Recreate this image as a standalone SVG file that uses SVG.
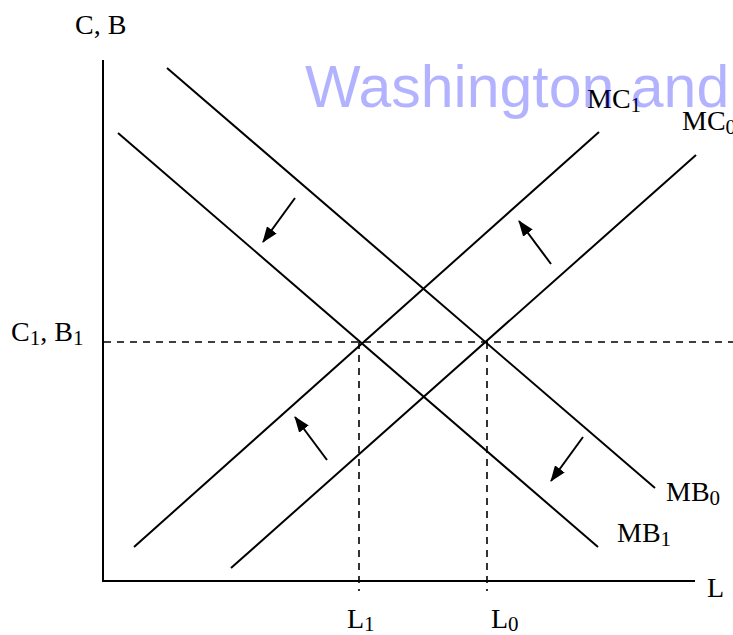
<svg xmlns="http://www.w3.org/2000/svg" width="733" height="635" viewBox="0 0 733 635">
<style>
.ax{stroke:#000;stroke-width:2;fill:none}
.ln{stroke:#000;stroke-width:2;fill:none}
.ds{stroke:#000;stroke-width:1.6;stroke-dasharray:7,6;fill:none}
.ar{stroke:#000;stroke-width:2;fill:none;marker-end:url(#ah)}
.t{font-family:"Liberation Serif","Times New Roman",serif;font-size:28px;fill:#000}
.s{font-size:21px}
.wm{font-family:"Liberation Sans",Arial,sans-serif;font-size:59px;fill:#0000ff;fill-opacity:0.3}
</style>
<defs>
<marker id="ah" viewBox="0 0 16 12" refX="15" refY="6" markerWidth="16" markerHeight="12" markerUnits="userSpaceOnUse" orient="auto">
<path d="M0,0 L16,6 L0,12 z" fill="#000"/>
</marker>
</defs>
<rect width="733" height="635" fill="#fff"/>
<g id="axes">
<line class="ax" x1="103" y1="60" x2="103" y2="581"/>
<line class="ax" x1="102" y1="581" x2="695" y2="581"/>
</g>
<g id="connectors">
<line class="ds" x1="104" y1="342" x2="733" y2="342"/>
<line class="ds" x1="359" y1="342" x2="359" y2="591"/>
<line class="ds" x1="487" y1="342" x2="487" y2="591"/>
<line class="ar" x1="295" y1="198" x2="263" y2="242"/>
<line class="ar" x1="551" y1="264" x2="519" y2="221"/>
<line class="ar" x1="327" y1="460" x2="295" y2="417"/>
<line class="ar" x1="583" y1="437" x2="551" y2="481"/>
</g>
<g id="MB0"><line class="ln" x1="167" y1="68" x2="655" y2="488"/><text class="t" x="666" y="501">MB<tspan class="s" dy="4">0</tspan></text></g>
<g id="MB1"><line class="ln" x1="118" y1="133" x2="598" y2="547"/><text class="t" x="617" y="542">MB<tspan class="s" dy="4">1</tspan></text></g>
<g id="MC1"><line class="ln" x1="134" y1="547" x2="599" y2="132"/><text class="t" x="587" y="108">MC<tspan class="s" dy="4">1</tspan></text></g>
<g id="MC0"><line class="ln" x1="231" y1="568" x2="696" y2="155"/><text class="t" x="682" y="130">MC<tspan class="s" dy="4">0</tspan></text></g>
<g id="labels">
<text class="t" x="75" y="34">C, B</text>
<text class="t" x="11" y="341">C<tspan class="s" dy="4">1</tspan><tspan dy="-4">, B</tspan><tspan class="s" dy="4">1</tspan></text>
<text class="t" x="347" y="628">L<tspan class="s" dy="3">1</tspan></text>
<text class="t" x="491" y="628">L<tspan class="s" dy="3">0</tspan></text>
<text class="t" x="707" y="597">L</text>
</g>
<text class="wm" x="305" y="107">Washington and</text>
</svg>
